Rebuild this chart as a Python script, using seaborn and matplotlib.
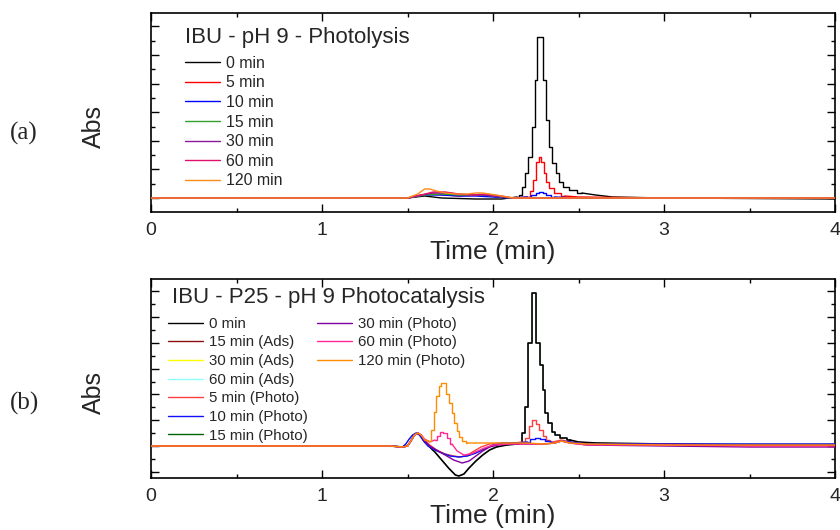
import matplotlib
matplotlib.use("Agg")
import matplotlib.pyplot as plt
from matplotlib.ticker import MultipleLocator
import seaborn as sns
import pandas as pd

sns.set_style("ticks")
plt.rcParams['font.family'] = ['Liberation Sans', 'DejaVu Sans']

# ---------------- Panel (a): IBU - pH 9 - Photolysis ----------------
a_title = "IBU - pH 9 - Photolysis"
a_labels = ["0 min", "5 min", "10 min", "15 min", "30 min", "60 min", "120 min"]
a_colors = ["#000000", "#ff0000", "#0000ff", "#33a02c", "#8b1a9b", "#e0106a", "#ff8c1a"]

a_t_0 = [0, 1.0, 1.5, 1.6, 1.7, 1.9, 2.05, 2.14, 2.16, 2.177, 2.197, 2.216, 2.236, 2.252, 2.268,
         2.286, 2.301, 2.318, 2.337, 2.356, 2.376, 2.398, 2.426, 2.465, 2.52, 2.6, 2.7, 3.0, 4.0]
a_v_0 = [0.0, 0.0, 0.0, 0.02, 0.0, -0.01, -0.01, 0.01, 0.03, 0.11, 0.25, 0.41, 0.71, 1.18, 1.61,
         1.61, 1.18, 0.78, 0.51, 0.35, 0.25, 0.16, 0.11, 0.08, 0.05, 0.03, 0.01, 0.0, -0.01]
a_t_5 = [0, 1.0, 1.5, 1.58, 1.65, 1.72, 1.8, 1.9, 1.97, 2.05, 2.12, 2.2, 2.228, 2.243, 2.258,
         2.275, 2.29, 2.301, 2.316, 2.338, 2.372, 2.42, 2.5, 3.0, 4.0]
a_v_5 = [0.0, 0.0, 0.0, 0.03, 0.04, 0.03, 0.02, 0.03, 0.02, 0.01, 0.0, 0.01, 0.07, 0.18, 0.36,
         0.41, 0.36, 0.25, 0.16, 0.10, 0.05, 0.02, 0.01, 0.0, 0.0]
a_t_10 = [0, 1.5, 1.6, 1.7, 1.8, 1.9, 2.0, 2.1, 2.2, 2.24, 2.26, 2.28, 2.30, 2.32, 2.36, 2.5, 4.0]
a_v_10 = [0.0, 0.0, 0.03, 0.03, 0.02, 0.02, 0.01, 0.0, 0.01, 0.03, 0.05, 0.06, 0.05, 0.03, 0.01, 0.0, 0.0]
a_t_15 = [0, 1.5, 1.6, 1.7, 1.8, 1.95, 2.1, 4.0]
a_v_15 = [0.0, 0.0, 0.03, 0.04, 0.03, 0.03, 0.0, 0.0]
a_t_30 = [0, 1.5, 1.58, 1.65, 1.72, 1.8, 1.88, 1.95, 2.05, 2.12, 4.0]
a_v_30 = [0.0, 0.0, 0.03, 0.05, 0.05, 0.04, 0.03, 0.03, 0.01, 0.0, 0.0]
a_t_60 = [0, 1.5, 1.58, 1.65, 1.72, 1.8, 1.88, 1.95, 2.05, 2.12, 4.0]
a_v_60 = [0.0, 0.0, 0.03, 0.06, 0.06, 0.04, 0.03, 0.04, 0.02, 0.0, 0.0]
a_t_120 = [0, 1.5, 1.56, 1.6, 1.63, 1.67, 1.72, 1.78, 1.85, 1.9, 1.94, 1.98, 2.05, 2.12, 4.0]
a_v_120 = [0.0, 0.0, 0.04, 0.09, 0.09, 0.07, 0.05, 0.04, 0.04, 0.05, 0.05, 0.04, 0.02, 0.0, 0.0]

a_series = [(a_t_0, a_v_0), (a_t_5, a_v_5), (a_t_10, a_v_10), (a_t_15, a_v_15),
            (a_t_30, a_v_30), (a_t_60, a_v_60), (a_t_120, a_v_120)]
# time windows where the detector sampling shows as steps
a_step_win = [(2.14, 2.52), (2.2, 2.42), (2.2, 2.36), None, None, None, None]
a_widths = [1.0] * 7

# ---------------- Panel (b): IBU - P25 - pH 9 Photocatalysis ----------------
b_title = "IBU - P25 - pH 9 Photocatalysis"
b_labels = ["0 min", "15 min (Ads)", "30 min (Ads)", "60 min (Ads)", "5 min (Photo)",
            "10 min (Photo)", "15 min (Photo)", "30 min (Photo)", "60 min (Photo)", "120 min (Photo)"]
b_colors = ["#000000", "#8b1010", "#ffff00", "#90ffff", "#ff4040",
            "#1010ff", "#006400", "#8000a0", "#ff2a95", "#ff8c00"]

b_t_0 = [0, 1.0, 1.4, 1.47, 1.50, 1.52, 1.54, 1.56, 1.58, 1.60, 1.63, 1.66, 1.70, 1.74, 1.78, 1.80,
         1.83, 1.86, 1.90, 1.94, 1.98, 2.02, 2.08, 2.14, 2.16, 2.178, 2.197, 2.217, 2.24, 2.265, 2.282,
         2.297, 2.314, 2.333, 2.353, 2.377, 2.41, 2.45, 2.5, 2.6, 3.0, 3.5, 4.0]
b_v_0 = [0.0, 0.0, 0.0, -0.01, 0.0, 0.05, 0.11, 0.13, 0.10, 0.04, -0.01, -0.06, -0.14, -0.22, -0.29, -0.30,
         -0.28, -0.22, -0.15, -0.09, -0.04, -0.01, 0.01, 0.02, 0.03, 0.13, 0.39, 1.03, 1.53, 1.03, 0.81,
         0.56, 0.33, 0.23, 0.14, 0.11, 0.08, 0.06, 0.04, 0.03, 0.02, 0.01, 0.01]
# adsorption runs overlap the 0 min trace
b_t_ads = b_t_0
b_v_ads = b_v_0
b_t_5 = [0, 1.0, 1.4, 1.47, 1.50, 1.52, 1.54, 1.56, 1.58, 1.60, 1.63, 1.67, 1.72, 1.77, 1.81, 1.85,
         1.89, 1.93, 1.98, 2.05, 2.12, 2.18, 2.20, 2.22, 2.24, 2.26, 2.28, 2.30, 2.32, 2.35, 2.40, 2.45,
         2.55, 3.0, 3.5, 4.0]
b_v_5 = [0.0, 0.0, 0.0, -0.01, 0.0, 0.05, 0.11, 0.13, 0.11, 0.06, 0.01, -0.04, -0.08, -0.10, -0.11, -0.09,
         -0.05, -0.01, 0.02, 0.03, 0.03, 0.04, 0.08, 0.20, 0.26, 0.22, 0.16, 0.10, 0.06, 0.04, 0.06, 0.04,
         0.02, 0.02, 0.01, 0.01]
b_t_10 = [0, 1.0, 1.4, 1.47, 1.49, 1.51, 1.53, 1.55, 1.57, 1.59, 1.62, 1.66, 1.70, 1.75, 1.80, 1.85,
          1.90, 1.95, 2.0, 2.06, 2.14, 2.20, 2.23, 2.26, 2.29, 2.32, 2.36, 2.40, 2.45, 2.55, 3.0, 3.5, 4.0]
b_v_10 = [0.0, 0.0, 0.0, -0.01, 0.02, 0.07, 0.11, 0.13, 0.11, 0.06, 0.0, -0.04, -0.07, -0.10, -0.11, -0.10,
          -0.07, -0.03, 0.01, 0.03, 0.03, 0.04, 0.07, 0.08, 0.07, 0.05, 0.03, 0.05, 0.04, 0.02, 0.02, 0.02, 0.02]
b_t_15p = b_t_10
b_v_15p = b_v_10
b_t_30p = [0, 1.0, 1.4, 1.47, 1.50, 1.52, 1.54, 1.56, 1.58, 1.60, 1.63, 1.67, 1.72, 1.77, 1.82, 1.86,
           1.90, 1.94, 1.98, 2.03, 2.10, 2.20, 2.30, 2.36, 2.40, 2.45, 2.55, 3.0, 3.5, 4.0]
b_v_30p = [0.0, 0.0, 0.0, -0.01, 0.0, 0.05, 0.11, 0.13, 0.11, 0.05, 0.0, -0.04, -0.09, -0.14, -0.17, -0.15,
           -0.10, -0.05, -0.01, 0.01, 0.02, 0.02, 0.02, 0.03, 0.05, 0.03, 0.01, 0.0, -0.01, -0.01]
b_t_60p = [0, 1.0, 1.4, 1.47, 1.50, 1.52, 1.54, 1.56, 1.58, 1.60, 1.63, 1.66, 1.685, 1.70, 1.72, 1.74,
           1.76, 1.79, 1.83, 1.87, 1.91, 1.95, 2.0, 2.1, 2.2, 2.3, 2.36, 2.40, 2.45, 2.55, 3.0, 3.5, 4.0]
b_v_60p = [0.0, 0.0, 0.0, -0.01, 0.0, 0.05, 0.11, 0.13, 0.11, 0.07, 0.04, 0.06, 0.10, 0.14, 0.13, 0.08,
           0.02, -0.05, -0.09, -0.08, -0.05, -0.02, 0.01, 0.02, 0.02, 0.02, 0.03, 0.05, 0.03, 0.01, 0.01, 0.0, 0.0]
b_t_120p = [0, 1.0, 1.4, 1.47, 1.50, 1.52, 1.54, 1.56, 1.58, 1.60, 1.625, 1.645, 1.66, 1.675, 1.69, 1.705,
            1.72, 1.735, 1.75, 1.765, 1.78, 1.795, 1.81, 1.83, 1.85, 1.9, 2.0, 2.1, 2.2, 2.3, 2.36, 2.40,
            2.45, 2.55, 3.0, 3.5, 4.0]
b_v_120p = [0.0, 0.0, 0.0, -0.01, 0.0, 0.05, 0.11, 0.13, 0.11, 0.06, 0.05, 0.16, 0.34, 0.50, 0.60, 0.63,
            0.63, 0.52, 0.43, 0.33, 0.23, 0.15, 0.09, 0.05, 0.03, 0.03, 0.03, 0.03, 0.03, 0.02, 0.03, 0.05,
            0.03, 0.02, 0.01, 0.01, 0.01]

b_series = [(b_t_0, b_v_0), (b_t_ads, b_v_ads), (b_t_ads, b_v_ads), (b_t_ads, b_v_ads),
            (b_t_5, b_v_5), (b_t_10, b_v_10), (b_t_15p, b_v_15p), (b_t_30p, b_v_30p),
            (b_t_60p, b_v_60p), (b_t_120p, b_v_120p)]
b_step_win = [(2.14, 2.45), (2.14, 2.45), (2.14, 2.45), (2.14, 2.45), (2.18, 2.35),
              (2.20, 2.32), (2.20, 2.32), None, (1.66, 1.76), (1.625, 1.85)]
# hidden overlapping runs drawn thinner underneath
b_widths = [1.2, 0.4, 0.4, 0.4, 1.0, 1.0, 0.5, 1.0, 1.0, 1.0]
# drawing order (hidden overlapping runs first)
b_draw_order = [1, 2, 3, 0, 6, 4, 5, 7, 8, 9]

x_ticks = [0, 1, 2, 3, 4]

fig = plt.figure(figsize=(8.4, 5.3), dpi=100)
ax_a = fig.add_axes([151 / 840, 1 - 212 / 530, 684 / 840, 199 / 530])
ax_b = fig.add_axes([151 / 840, 1 - 478 / 530, 684 / 840, 199 / 530])


def draw(ax, series, wins, colors, widths, order):
    handles = {}
    for z, i in enumerate(order):
        t, v = series[i]
        df = pd.DataFrame({"t": t, "v": v})
        win = wins[i]
        kw = dict(x="t", y="v", ax=ax, color=colors[i], lw=widths[i], estimator=None, legend=False,
                  zorder=2 + z)
        if win is None:
            sns.lineplot(data=df, **kw)
            handles[i] = ax.lines[-1]
        else:
            left = df[df.t <= win[0]]
            mid = df[(df.t >= win[0]) & (df.t <= win[1])]
            right = df[df.t >= win[1]]
            sns.lineplot(data=left, **kw)
            handles[i] = ax.lines[-1]
            sns.lineplot(data=mid, drawstyle="steps-mid", **kw)
            sns.lineplot(data=right, **kw)
    return [handles[i] for i in range(len(series))]


h_a = draw(ax_a, a_series, a_step_win, a_colors, a_widths, list(range(len(a_labels))))
h_b = draw(ax_b, b_series, b_step_win, b_colors, b_widths, b_draw_order)


def style(ax, ymin, ymax, ymaj, ymin_step, xlab_y, ylab_y):
    ax.set_xlim(0, 4)
    ax.set_ylim(ymin, ymax)
    ax.set_xticks(x_ticks)
    ax.set_xticklabels([str(x) for x in x_ticks])
    ax.xaxis.set_minor_locator(MultipleLocator(0.5))
    ax.yaxis.set_major_locator(MultipleLocator(ymaj))
    ax.yaxis.set_minor_locator(MultipleLocator(ymin_step))
    ax.set_yticklabels([])
    ax.tick_params(which="both", direction="in", top=True, right=True, width=1.0, color="black")
    ax.tick_params(which="major", length=6)
    ax.tick_params(which="minor", length=3)
    ax.tick_params(axis="x", labelsize=14, pad=7)
    for s in ax.spines.values():
        s.set_linewidth(1.2)
        s.set_color("black")
    ax.set_xlabel("Time (min)", fontsize=19)
    ax.xaxis.set_label_coords(0.5, xlab_y)
    ax.set_ylabel("Abs", fontsize=18)
    ax.yaxis.set_label_coords(-0.066, ylab_y)


style(ax_a, -0.14, 1.85, 0.286, 0.143, -0.14, 0.43)
style(ax_b, -0.32, 1.67, 0.258, 0.129, -0.13, 0.43)

ax_a.text(0.0497, 0.879, a_title, transform=ax_a.transAxes, fontsize=16, va="center", ha="left")
ax_b.text(0.0307, 0.9095, b_title, transform=ax_b.transAxes, fontsize=16, va="center", ha="left")

leg_kw = dict(frameon=False, loc="upper left", handletextpad=0.4, borderpad=0, borderaxespad=0)
ax_a.legend(h_a, a_labels, bbox_to_anchor=(0.0497, 0.785), fontsize=11.4, handlelength=2.2,
            labelspacing=0.29, **leg_kw)
leg1 = ax_b.legend(h_b[:7], b_labels[:7], bbox_to_anchor=(0.0249, 0.81), fontsize=10.8,
                   handlelength=2.3, labelspacing=0.31, **leg_kw)
for ln in leg1.get_lines():
    ln.set_linewidth(1.0)
ax_b.add_artist(leg1)
leg2 = ax_b.legend(h_b[7:], b_labels[7:], bbox_to_anchor=(0.2427, 0.81), fontsize=10.8,
                   handlelength=2.3, labelspacing=0.31, **leg_kw)

fig.text(10 / 840, 1 - 133 / 530, "(a)", fontsize=18, family=["Liberation Serif", "DejaVu Serif"],
         va="center", ha="left")
fig.text(10 / 840, 1 - 403 / 530, "(b)", fontsize=18, family=["Liberation Serif", "DejaVu Serif"],
         va="center", ha="left")

fig.savefig("out.png", dpi=100)
